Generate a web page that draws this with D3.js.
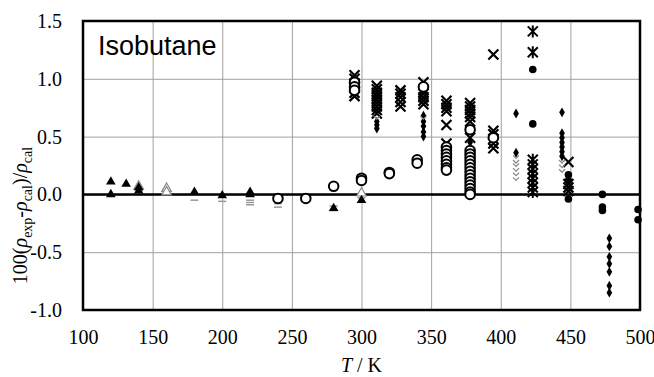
<!DOCTYPE html>
<html lang="en">
<head>
<meta charset="UTF-8"/>
<title>Isobutane density deviations</title>
<script src="https://d3js.org/d3.v7.min.js"></script>
<style>
  body { margin: 0; background: #fff; }
  .axis text { font-family: "Liberation Serif", "Times New Roman", serif; font-size: 20px; fill: #000; }
</style>
</head>
<body>
<script>
    var width = 654, height = 377;
    var margin = { top: 21, right: 14, bottom: 67, left: 83 };
    var w = width - margin.left - margin.right;
    var h = height - margin.top - margin.bottom;

    // tick values
    var xTicks = [100, 150, 200, 250, 300, 350, 400, 450, 500];
    var yTicks = [-1.0, -0.5, 0.0, 0.5, 1.0, 1.5];

    // data sets, [T / K, 100 (rho_exp - rho_cal) / rho_cal]
    var triFilled = [[120,0.11],[120,0.0],[131,0.09],[140,0.06],[140,0.03],[180,0.02],[200,-0.01],
                     [220,0.0],[220,0.02],[280,-0.12],[300,-0.05]];
    var triOpen = [[140,0.07],[160,0.05],[160,0.02],[300,0.01]];
    var dashes = [[140,0.03],[140,0.01],[180,-0.05],[200,-0.06],[220,-0.05],[220,-0.07],[220,-0.09],
                  [240,-0.06],[240,-0.08],[240,-0.11],[280,-0.10],[280,-0.14],[300,-0.03]];
    var circOpen = [[240,-0.035],[260,-0.035],[280,0.07],[300,0.14],[300,0.12],[320,0.19],[320,0.18],
                    [340,0.30],[340,0.27],[295,0.97],[295,0.93],[295,0.90],[344.5,0.93],
                    [361,0.41],[361,0.38],[361,0.35],[361,0.32],[361,0.29],[361,0.26],[361,0.23],[361,0.21],
                    [378,0.56],[378,0.38],[378,0.35],[378,0.32],[378,0.29],[378,0.26],[378,0.23],[378,0.20],
                    [378,0.17],[378,0.14],[378,0.11],[378,0.08],[378,0.05],[378,0.02],[378,0.0],[394.7,0.49]];
    var crosses = [[295,1.03],[295,1.0],[295,0.96],[295,0.92],[295,0.88],[295,0.85],
                   [311,0.94],[311,0.91],[311,0.88],[311,0.85],[311,0.82],[311,0.79],[311,0.76],[311,0.73],[311,0.70],
                   [328,0.90],[328,0.87],[328,0.84],[328,0.80],[328,0.76],
                   [344.5,0.97],[344.5,0.90],[344.5,0.87],[344.5,0.84],[344.5,0.81],[344.5,0.78],
                   [361,0.81],[361,0.78],[361,0.75],[361,0.72],[361,0.60],[361,0.44],
                   [378,0.79],[378,0.76],[378,0.73],[378,0.70],[378,0.67],[378,0.63],[378,0.49],
                   [394.7,1.21],[394.7,0.55],[394.7,0.52],[394.7,0.48],[394.7,0.44],[394.7,0.40],
                   [448.6,0.28],[448.6,0.09],[448.6,0.06],[448.6,0.03]];
    var asterisks = [[423,1.41],[423,1.23],[423,0.30],[423,0.26],[423,0.22],[423,0.18],[423,0.14],
                     [423,0.10],[423,0.06],[423,0.02]];
    var circFilled = [[423,1.08],[423,0.61],[448.6,0.17],[448.6,0.12],[448.6,-0.04],[473,0.0],
                      [473,-0.11],[473,-0.14],[498.6,-0.13],[498.6,-0.22]];
    var diamonds = [[311,0.63],[311,0.60],[311,0.57],[344.5,0.68],[344.5,0.63],[344.5,0.59],[344.5,0.54],
                    [344.5,0.50],[378,0.45],[411,0.70],[411,0.36],[444,0.71],[444,0.53],[444,0.49],
                    [444,0.45],[444,0.41],[444,0.37],[444,0.33],[478,-0.38],[478,-0.45],[478,-0.54],
                    [478,-0.60],[478,-0.67],[478,-0.79],[478,-0.85]];
    var chevrons = [[311,0.66],[344.5,0.66],[411,0.32],[411,0.28],[411,0.25],[411,0.21],[411,0.17],
                    [411,0.13],[444,0.28],[444,0.24],[444,0.20]];

    var xScale = d3.scaleLinear().domain([100, 500]).range([0, w]);
    var yScale = d3.scaleLinear().domain([-1.0, 1.5]).range([h, 0]);

    var svg = d3.select("body")
                .append("svg")
                .attr("width", width)
                .attr("height", height)
                .append("g")
                .attr("transform", "translate(" + margin.left + "," + margin.top + ")");

    // grid + tick labels
    svg.append("g")
       .attr("class", "axis")
       .attr("transform", "translate(0," + h + ")")
       .call(d3.axisBottom(xScale).tickValues(xTicks).tickSize(-h).tickPadding(20)
               .tickFormat(function(d) { return d; }))
       .call(function(g) {
           g.select(".domain").remove();
           g.selectAll(".tick line").attr("stroke", "#a0a0a0").attr("stroke-width", 1);
       });

    svg.append("g")
       .attr("class", "axis")
       .call(d3.axisLeft(yScale).tickValues(yTicks).tickSize(-w).tickPadding(21)
               .tickFormat(function(d) { return d.toFixed(1); }))
       .call(function(g) {
           g.select(".domain").remove();
           g.selectAll(".tick line").attr("stroke", "#a0a0a0").attr("stroke-width", 1);
       });

    // zero line
    svg.append("line")
       .attr("x1", 0).attr("x2", w)
       .attr("y1", yScale(0)).attr("y2", yScale(0))
       .attr("stroke", "#000").attr("stroke-width", 2.5);

    function plot(data, pathStr, fill, stroke, sw) {
        svg.append("g").selectAll("path")
           .data(data)
           .enter()
           .append("path")
           .attr("d", pathStr)
           .attr("transform", function(d) {
               return "translate(" + xScale(d[0]) + "," + yScale(d[1]) + ")";
           })
           .attr("fill", fill)
           .attr("stroke", stroke)
           .attr("stroke-width", sw);
    }

    var xMark = "M-5,-5L5,5M-5,5L5,-5";
    var starMark = "M-5,-5L5,5M-5,5L5,-5M0,-6L0,6";
    var chevMark = "M-3,-2L0,1L3,-2";
    var dashMark = "M-4,0L4,0";

    plot(dashes, dashMark, "none", "#999", 1.5);
    plot(triOpen, d3.symbol().type(d3.symbolTriangle).size(40)(), "#fff", "#888", 1.2);
    plot(triFilled, d3.symbol().type(d3.symbolTriangle).size(40)(), "#000", "none", 0);
    plot(crosses, xMark, "none", "#000", 2.2);
    plot(circOpen, d3.symbol().type(d3.symbolCircle).size(72)(), "#fff", "#000", 2);
    plot(asterisks, starMark, "none", "#000", 2);
    plot(circFilled, d3.symbol().type(d3.symbolCircle).size(45)(), "#000", "none", 0);
    plot(diamonds, d3.symbol().type(d3.symbolDiamond).size(28)(), "#000", "none", 0);
    plot(chevrons, chevMark, "none", "#888", 1.2);

    // plot border
    svg.append("rect")
       .attr("x", 0).attr("y", 0)
       .attr("width", w).attr("height", h)
       .attr("fill", "none")
       .attr("stroke", "#000")
       .attr("stroke-width", 2.5);

    // substance label
    svg.append("text")
       .attr("x", 15).attr("y", 34)
       .attr("font-family", "Liberation Sans, Arial, sans-serif")
       .attr("font-size", 27)
       .text("Isobutane");

    // axis titles
    var serif = "Liberation Serif, Times New Roman, serif";
    var xt = svg.append("text")
       .attr("x", w / 2).attr("y", h + 62)
       .attr("text-anchor", "middle")
       .attr("font-family", serif)
       .attr("font-size", 20);
    xt.append("tspan").attr("font-style", "italic").text("T");
    xt.append("tspan").text(" / K");

    var yt = svg.append("text")
       .attr("transform", "translate(" + (-56) + "," + (h / 2 + 50) + ") rotate(-90)")
       .attr("text-anchor", "middle")
       .attr("font-family", serif)
       .attr("font-size", 20);
    yt.append("tspan").text("100(");
    yt.append("tspan").attr("font-style", "italic").text("ρ");
    yt.append("tspan").attr("font-size", 14).attr("dy", 5).text("exp");
    yt.append("tspan").attr("dy", -5).text("-");
    yt.append("tspan").attr("font-style", "italic").text("ρ");
    yt.append("tspan").attr("font-size", 14).attr("dy", 5).text("cal");
    yt.append("tspan").attr("dy", -5).text(")/");
    yt.append("tspan").attr("font-style", "italic").text("ρ");
    yt.append("tspan").attr("font-size", 14).attr("dy", 5).text("cal");
</script>
</body>
</html>
